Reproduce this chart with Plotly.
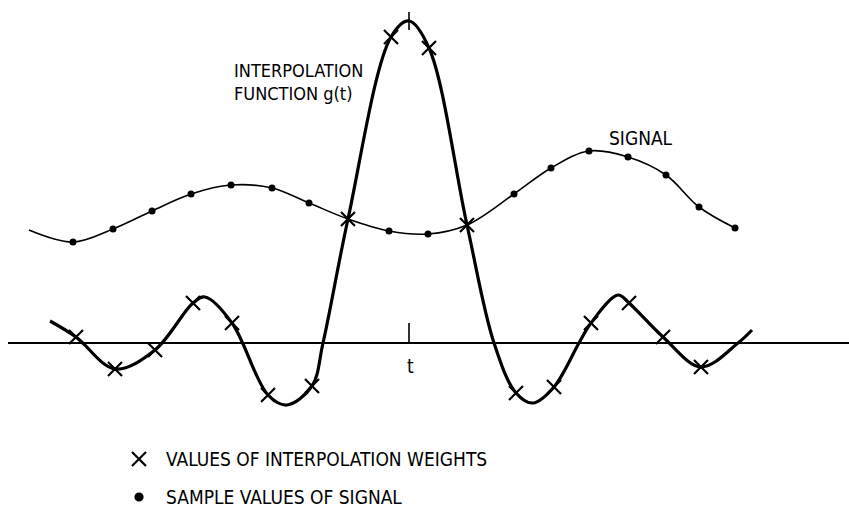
import plotly.graph_objects as go

# Horizontal position (arbitrary time units) and amplitude above the time axis.
# Interpolation weights: values of g(t) at the sample instants (drawn as X).
weight_t = [76, 115, 155, 193, 232, 268, 312, 348, 391, 429, 467, 516, 554, 591, 629, 663, 701]
weight_v = [6, -26, -7, 40, 20, -52, -43, 124, 306, 295, 118, -50, -44, 20, 40, 6, -24]

# Further points on g(t): ends, zero crossings and lobe extrema.
g_extra_t = [50, 205, 287, 323, 409, 494, 533, 579, 618, 738, 752]
g_extra_v = [22, 46, -62, 0, 322, 0, -60, 0, 48, 0, 13]

# Signal samples (drawn as dots).
sample_t = [73, 113, 152, 191, 231, 272, 309, 389, 428, 514, 551, 589, 628, 666, 699, 735]
sample_v = [101, 114, 132, 149, 158, 155, 140, 112, 109, 149, 175, 192, 186, 168, 136, 115]

# Further points on the signal: its start and where it meets g(t).
sig_extra_t = [29, 348, 467]
sig_extra_v = [113, 124, 118]

t_center = 409          # the instant t where g(t) is centred
peak_value = 322        # g(t) at its centre

# Key entries below the plot: label, marker symbol, marker size
key_labels = ["VALUES OF INTERPOLATION WEIGHTS", "SAMPLE VALUES OF SIGNAL"]
key_symbols = ["x-thin", "circle"]
key_sizes = [14, 7]

FONT = "Liberation Sans Narrow, DejaVu Sans Condensed, Arial Narrow, sans-serif"
INK = "black"

# layout of the key, in axis units
KEY_X = 139
KEY_TEXT_X = 164
KEY_Y = [-116, -154]


def merged(ts1, vs1, ts2, vs2):
    pts = sorted(zip(list(ts1) + list(ts2), list(vs1) + list(vs2)))
    return [p[0] for p in pts], [p[1] for p in pts]


g_t, g_v = merged(weight_t, weight_v, g_extra_t, g_extra_v)
s_t, s_v = merged(sample_t, sample_v, sig_extra_t, sig_extra_v)

fig = go.Figure()

# Signal curve (thin)
fig.add_trace(go.Scatter(
    x=s_t, y=s_v, mode="lines",
    line=dict(color=INK, width=1.6, shape="spline", smoothing=1.0),
    showlegend=False, hoverinfo="skip",
))

# Interpolation function g(t) (heavy)
fig.add_trace(go.Scatter(
    x=g_t, y=g_v, mode="lines",
    line=dict(color=INK, width=3.2, shape="spline", smoothing=1.0),
    showlegend=False, hoverinfo="skip",
))

# Tick marking t on the axis, and at the peak of g(t)
fig.add_trace(go.Scatter(
    x=[t_center, t_center], y=[0, 20], mode="lines",
    line=dict(color=INK, width=1.6), showlegend=False, hoverinfo="skip",
))
fig.add_trace(go.Scatter(
    x=[t_center, t_center], y=[peak_value - 9, peak_value + 9], mode="lines",
    line=dict(color=INK, width=1.6), showlegend=False, hoverinfo="skip",
))

# Weight values (X)
fig.add_trace(go.Scatter(
    x=weight_t, y=weight_v, mode="markers",
    marker=dict(symbol="x-thin", size=14, line=dict(color=INK, width=2.2), color=INK),
    name=key_labels[0], showlegend=False, hoverinfo="skip",
))

# Signal samples (dots)
fig.add_trace(go.Scatter(
    x=sample_t, y=sample_v, mode="markers",
    marker=dict(symbol="circle", size=7, color=INK),
    name=key_labels[1], showlegend=False, hoverinfo="skip",
))

# Key symbols
for sym, size, ky, label in zip(key_symbols, key_sizes, KEY_Y, key_labels):
    fig.add_trace(go.Scatter(
        x=[KEY_X], y=[ky], mode="markers",
        marker=dict(symbol=sym, size=size, color=INK, line=dict(color=INK, width=2.2)),
        name=label, showlegend=False, hoverinfo="skip",
    ))

annotations = [
    dict(x=232, y=273, text="INTERPOLATION", xanchor="left", size=18),
    dict(x=232, y=250, text="FUNCTION g(t)", xanchor="left", size=18),
    dict(x=641, y=205, text="SIGNAL", xanchor="center"),
    dict(x=t_center + 1, y=-23, text="t", xanchor="center"),
] + [
    dict(x=KEY_TEXT_X, y=ky, text=label, xanchor="left")
    for ky, label in zip(KEY_Y, key_labels)
]
fig.update_layout(annotations=[
    dict(x=a["x"], y=a["y"], text=a["text"], xref="x", yref="y",
         xanchor=a["xanchor"], yanchor="middle", showarrow=False,
         font=dict(family=FONT, size=a.get("size", 19), color=INK))
    for a in annotations
])

fig.update_layout(
    width=849, height=508,
    margin=dict(l=8, r=0, t=0, b=0),
    paper_bgcolor="white", plot_bgcolor="white",
    xaxis=dict(range=[8, 849], visible=False, fixedrange=True),
    yaxis=dict(range=[-165, 343], showgrid=False, showticklabels=False, ticks="",
               showline=False, zeroline=True, zerolinecolor=INK, zerolinewidth=1.6,
               fixedrange=True),
    showlegend=False,
)

fig.write_html("out.html")
